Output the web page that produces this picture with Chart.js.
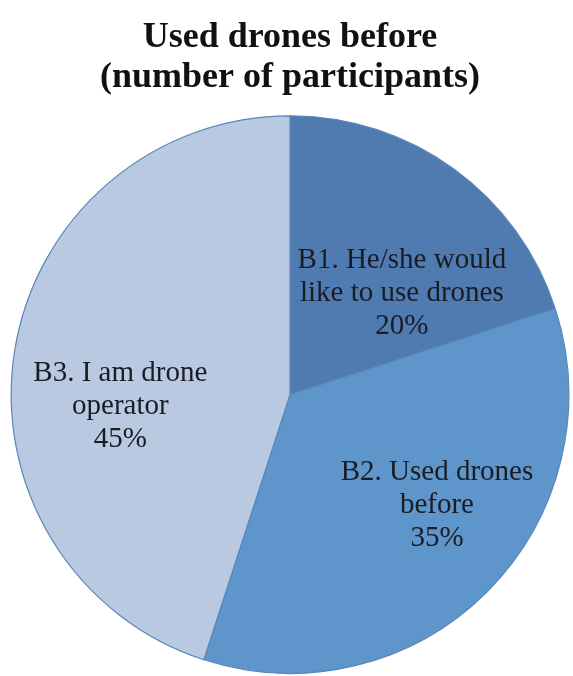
<!DOCTYPE html>
<html lang="en">
<head>
    <meta charset="UTF-8">
    <title>Used drones before</title>
    <style>
        body {
            margin: 0;
            padding: 0;
            background: #ffffff;
        }

        .chart-container {
            position: relative;
            width: 573px;
            height: 676px;
        }
    </style>
    <script src="https://cdn.jsdelivr.net/npm/chart.js"></script>
</head>
<body>
    <div class="chart-container">
        <canvas id="myChart"></canvas>
    </div>

    <script>
        const titleLines = ['Used drones before', '(number of participants)'];
        const categories = [
            ['B1. He/she would', 'like to use drones'],
            ['B2. Used drones', 'before'],
            ['B3. I am drone', 'operator']
        ];
        const percentages = [20, 35, 45];

        const sliceColors = ['#4f7bb0', '#5e95ca', '#b9c9e2'];

        // where each label sits inside its slice: turn from the slice middle (deg) and share of radius
        const labelSpots = [
            { turn: 12, dist: 0.54 },
            { turn: -8, dist: 0.66 },
            { turn: -13, dist: 0.61 }
        ];

        const sliceLabels = {
            id: 'sliceLabels',
            afterDatasetsDraw(chart) {
                const ctx = chart.ctx;
                const arcs = chart.getDatasetMeta(0).data;
                ctx.save();
                ctx.font = '29px "Liberation Serif", "Times New Roman", serif';
                ctx.fillStyle = '#1a1c24';
                ctx.textAlign = 'center';
                ctx.textBaseline = 'middle';
                arcs.forEach((arc, i) => {
                    const spot = labelSpots[i];
                    const mid = (arc.startAngle + arc.endAngle) / 2 + spot.turn * Math.PI / 180;
                    const r = arc.outerRadius * spot.dist;
                    const cx = arc.x + Math.cos(mid) * r;
                    const cy = arc.y + Math.sin(mid) * r;
                    const lines = categories[i].concat([percentages[i] + '%']);
                    const lh = 33;
                    lines.forEach((line, j) => {
                        ctx.fillText(line, cx, cy + (j - (lines.length - 1) / 2) * lh);
                    });
                });
                ctx.restore();
            }
        };

        const ctx = document.getElementById('myChart').getContext('2d');
        const myChart = new Chart(ctx, {
            type: 'pie',
            data: {
                labels: categories.map(c => c.join(' ')),
                datasets: [{
                    data: percentages,
                    backgroundColor: sliceColors,
                    borderColor: '#5a86bb',
                    borderWidth: 1.2
                }]
            },
            options: {
                responsive: true,
                maintainAspectRatio: false,
                animation: false,
                layout: {
                    padding: { top: 0, left: 7, right: 0, bottom: 2 }
                },
                plugins: {
                    legend: { display: false },
                    tooltip: { enabled: false },
                    title: {
                        display: true,
                        text: titleLines,
                        color: '#111111',
                        font: {
                            family: '"Liberation Serif", "Times New Roman", serif',
                            size: 36,
                            weight: 'bold',
                            lineHeight: 1.1
                        },
                        padding: { top: 18, bottom: 18 }
                    }
                }
            },
            plugins: [sliceLabels]
        });
    </script>
</body>
</html>
